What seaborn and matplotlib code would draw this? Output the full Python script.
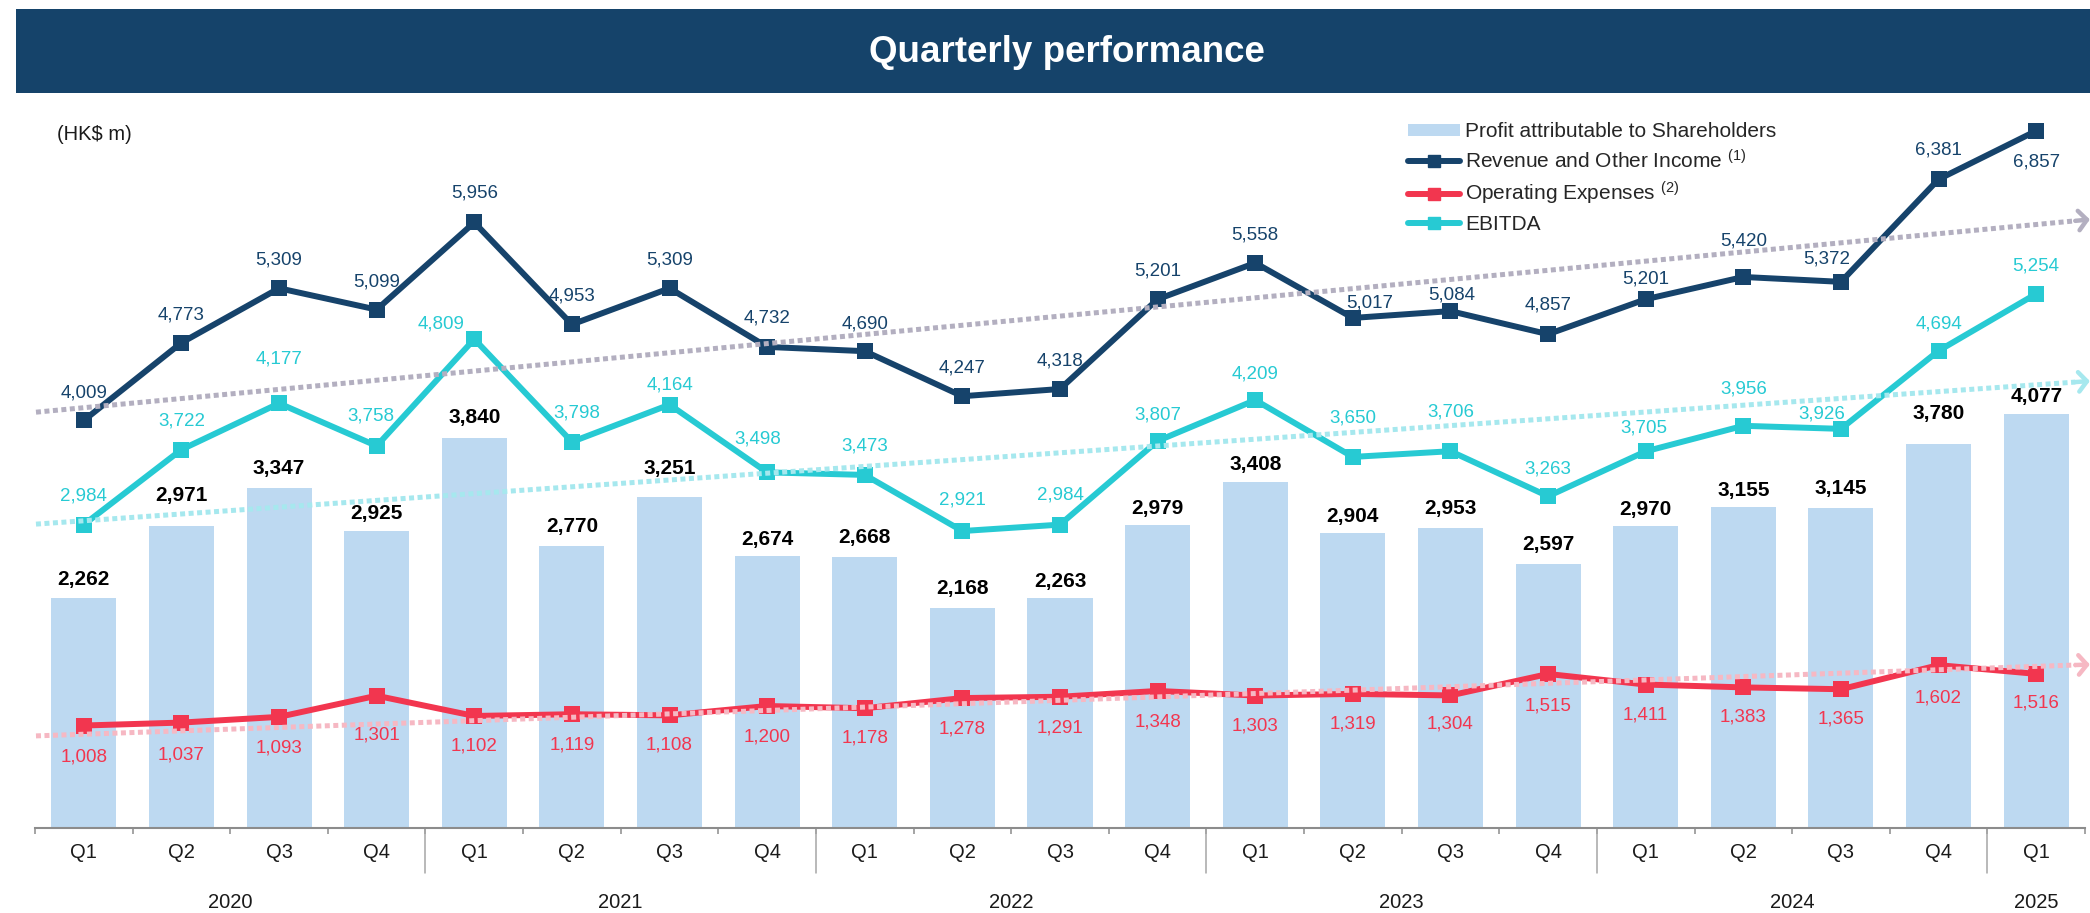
import numpy as np
import pandas as pd
import matplotlib
matplotlib.use("Agg")
import matplotlib.pyplot as plt
from matplotlib.patches import Rectangle, Patch
from matplotlib.lines import Line2D
import seaborn as sns

# ---------------- data ----------------
quarters = ["Q1", "Q2", "Q3", "Q4"] * 5 + ["Q1"]
quarter_year = ["2020"] * 4 + ["2021"] * 4 + ["2022"] * 4 + ["2023"] * 4 + ["2024"] * 4 + ["2025"]
profit = [2262, 2971, 3347, 2925, 3840, 2770, 3251, 2674, 2668, 2168, 2263,
          2979, 3408, 2904, 2953, 2597, 2970, 3155, 3145, 3780, 4077]
revenue = [4009, 4773, 5309, 5099, 5956, 4953, 5309, 4732, 4690, 4247, 4318,
           5201, 5558, 5017, 5084, 4857, 5201, 5420, 5372, 6381, 6857]
opex = [1008, 1037, 1093, 1301, 1102, 1119, 1108, 1200, 1178, 1278, 1291,
        1348, 1303, 1319, 1304, 1515, 1411, 1383, 1365, 1602, 1516]
ebitda = [2984, 3722, 4177, 3758, 4809, 3798, 4164, 3498, 3473, 2921, 2984,
          3807, 4209, 3650, 3706, 3263, 3705, 3956, 3926, 4694, 5254]
# trend arrows (values read at the start and end of each dotted arrow)
trend_revenue = [4090, 5972]
trend_ebitda = [2989, 4386]
trend_opex = [906, 1603]

# ---------------- layout / style ----------------
W, H = 2090, 913
NAVY = "#15436A"
BAR = "#BDD9F1"
REV = "#16436B"
OPEX = "#F2364F"
EBIT = "#27CAD3"
T_REV = "#B3AFC0"
T_EBIT = "#A6E8EE"
T_OPEX = "#F6B8C3"
AXIS_GREY = "#8C8C8C"

rev_dy = [27, 28, 28, 28, 29, 28, 28, 29, 27, 28, 28, 28, 28, 15, 16, 29, 20, 36, 23, 29, -31]
rev_dx = [0] * 13 + [17, 1] + [0] * 3 + [-14, 0, 0]
ebit_dy = [29, 29, 44, 30, 15, 29, 20, 33, 29, 31, 30, 26, 26, 39, 39, 27, 23, 37, 15, 27, 28]
ebit_dx = [0, 0, 0, -6, -33, 5, 0, -9, 0, 0, 0, 0, 0, 0, 0, 0, -2, 0, -19, 0, 0]
opex_dy = [-31, -32, -31, -39, -30, -31, -30, -31, -30, -31, -31, -31, -30, -30, -29,
           -32, -30, -30, -30, -33, -29]
bar_dy = [19, 30, 19, 17, 20, 20, 29, 17, 19, 19, 16, 17, 17, 16, 19, 19, 17, 17, 20, 30, 17]

sns.set_theme(style="white")
plt.rcParams["font.family"] = ["Liberation Sans", "DejaVu Sans"]
plt.rcParams["mathtext.fontset"] = "custom"
plt.rcParams["mathtext.rm"] = "Liberation Sans"
plt.rcParams["mathtext.it"] = "Liberation Sans:italic"
plt.rcParams["mathtext.bf"] = "Liberation Sans:bold"

df = pd.DataFrame({"idx": np.arange(len(quarters)), "quarter": quarters, "year": quarter_year,
                   "profit": profit, "revenue": revenue, "opex": opex, "ebitda": ebitda})

fig = plt.figure(figsize=(W / 100, H / 100), dpi=100)
fig.patch.set_facecolor("white")

# banner
fig.add_artist(Rectangle((16 / W, 1 - 93 / H), (W - 16) / W, 84 / H,
                         transform=fig.transFigure, facecolor=NAVY, edgecolor="none", zorder=0))
fig.text(1067 / W, 1 - 52 / H, "Quarterly performance", color="white", fontsize=26.5,
         fontweight="bold", ha="center", va="center")
fig.text(57 / W, 1 - 134 / H, r"(HK\$ m)", fontsize=14.5, color="#1a1a1a", ha="left", va="center")

ax = fig.add_axes([35 / W, (H - 828) / H, 2050 / W, 732 / H])

sns.barplot(data=df, x="idx", y="profit", color=BAR, saturation=1, width=0.666,
            linewidth=0, ax=ax, zorder=1)

for col, colr in [("revenue", REV), ("opex", OPEX), ("ebitda", EBIT)]:
    sns.lineplot(data=df, x="idx", y=col, color=colr, marker="s", markersize=11,
                 markeredgewidth=0, linewidth=4.3, ax=ax, zorder=3)

ax.set_xlim(-0.5, 20.5)
ax.set_ylim(0, 7200)
ax.set_xlabel("")
ax.set_ylabel("")
ax.set_yticks([])
for s in ["left", "right", "top"]:
    ax.spines[s].set_visible(False)
ax.spines["bottom"].set_color(AXIS_GREY)
ax.spines["bottom"].set_linewidth(1.5)

# trend arrows
x0, x1, xtip = -0.49, 20.40, 20.55
for tr, colr in [(trend_revenue, T_REV), (trend_ebitda, T_EBIT), (trend_opex, T_OPEX)]:
    ax.plot([x0, x1], tr, color=colr, lw=3.6, dashes=(1.0, 0.7), dash_capstyle="butt",
            clip_on=False, zorder=4)
    slope = (tr[1] - tr[0]) / (x1 - x0)
    ytip = tr[1] + slope * (xtip - x1)
    ax.annotate("", xy=(xtip, ytip), xytext=(x1, tr[1]), annotation_clip=False,
                arrowprops=dict(arrowstyle="->,head_length=0.6,head_width=0.7", color=colr,
                                lw=3.2, mutation_scale=10, shrinkA=0, shrinkB=0),
                zorder=4)

# value labels
for i in range(len(quarters)):
    ax.annotate(f"{profit[i]:,}", (i, profit[i]), xytext=(0, bar_dy[i]), textcoords="offset pixels",
                ha="center", va="center", fontsize=15, fontweight="bold", color="black", zorder=6)
    ax.annotate(f"{revenue[i]:,}", (i, revenue[i]), xytext=(rev_dx[i], rev_dy[i]),
                textcoords="offset pixels", ha="center", va="center", fontsize=13.5, color=REV, zorder=6)
    ax.annotate(f"{ebitda[i]:,}", (i, ebitda[i]), xytext=(ebit_dx[i], ebit_dy[i]),
                textcoords="offset pixels", ha="center", va="center", fontsize=13.5, color=EBIT, zorder=6)
    ax.annotate(f"{opex[i]:,}", (i, opex[i]), xytext=(0, opex_dy[i]),
                textcoords="offset pixels", ha="center", va="center", fontsize=13.5, color=OPEX, zorder=6)

# x axis
ax.set_xticks(df["idx"], quarters)
ax.tick_params(axis="x", which="major", length=0, pad=11, labelsize=14.5, labelcolor="#1a1a1a")
ax.set_xticks(np.arange(-0.5, len(quarters), 1.0), minor=True)
ax.tick_params(axis="x", which="minor", length=4.3, width=1.1, color=AXIS_GREY, bottom=True)

year_pos = df.groupby("year")["idx"].mean()
year_edges = df.groupby("year")["idx"].min().values[1:] - 0.5
for b in year_edges:
    ax.axvline(b, ymin=-45 / 732, ymax=0, clip_on=False, color="#A6A6A6", lw=1.1)
for yr, xp in year_pos.items():
    ax.text(xp, -74 / 732, yr, transform=ax.get_xaxis_transform(), ha="center", va="center",
            fontsize=14.5, color="#1a1a1a")

# legend
handles = [
    Patch(facecolor=BAR, edgecolor="none", label="Profit attributable to Shareholders"),
    Line2D([], [], color=REV, lw=4.3, marker="s", markersize=8, solid_capstyle="round",
           label="Revenue and Other Income $^{(1)}$"),
    Line2D([], [], color=OPEX, lw=4.3, marker="s", markersize=8, solid_capstyle="round",
           label="Operating Expenses $^{(2)}$"),
    Line2D([], [], color=EBIT, lw=4.3, marker="s", markersize=8, solid_capstyle="round",
           label="EBITDA"),
]
fig.legend(handles=handles, loc="upper left", bbox_to_anchor=(1408 / W, 1 - 122 / H),
           frameon=False, fontsize=15, handlelength=2.5, handletextpad=0.24,
           labelspacing=0.38, borderpad=0, borderaxespad=0, handleheight=0.5)

fig.savefig("out.png", dpi=100)
